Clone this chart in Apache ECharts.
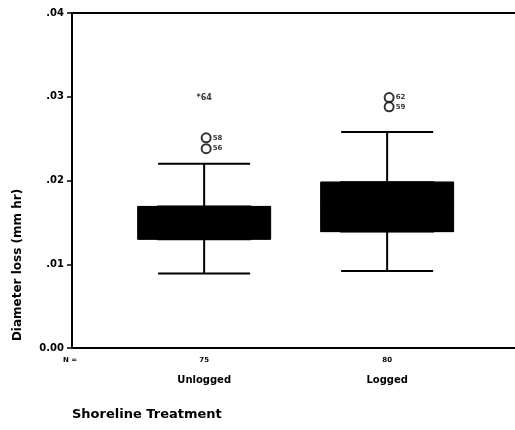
<!DOCTYPE html>
<html>
<head>
<meta charset="utf-8">
<script src="https://cdn.jsdelivr.net/npm/echarts@6/dist/echarts.min.js"></script>
<style>
  html, body { margin: 0; padding: 0; background: #fff; }
  #main { width: 515px; height: 430px; }
</style>
</head>
<body>
<div id="main"></div>
<script>
// groups and their case counts
var categories = ['Unlogged', 'Logged'];
var counts = [75, 80];

// five-number summaries, mm/hr
var boxMin = [0.0089, 0.0092];
var boxQ1 = [0.0130, 0.0139];
var boxMedian = [0.0150, 0.0170];
var boxQ3 = [0.0169, 0.0198];
var boxMax = [0.0220, 0.0258];

// outliers (circles) and extremes (stars) with their case labels
var outlierValues = [[0.0251, 0.0238], [0.0299, 0.0288]];
var outlierIds = [['58', '56'], ['62', '59']];
var extremeValues = [[0.0299], []];
var extremeIds = [['*64'], []];

var yTickLabels = ['0.00', '.01', '.02', '.03', '.04'];

var font = '"DejaVu Sans", sans-serif';

// narrow slots on the category axis so the two groups sit where the
// original plot put them (slot 6 and slot 15 of 22)
var slotCount = 22;
function slotOf(i) { return 6 + 9 * i; }
var slots = [];
for (var s = 0; s < slotCount; s++) slots.push('');
categories.forEach(function (c, i) { slots[slotOf(i)] = c; });

var whiskerData = categories.map(function (c, i) {
  return [slotOf(i), boxMin[i], boxQ1[i], boxMedian[i], boxQ3[i], boxMax[i]];
});
var boxData = categories.map(function (c, i) {
  return [slotOf(i), boxQ1[i], boxQ1[i], boxMedian[i], boxQ3[i], boxQ3[i]];
});
var outlierData = [];
var extremeData = [];
categories.forEach(function (c, i) {
  outlierValues[i].forEach(function (v, j) {
    outlierData.push({ value: [slotOf(i), v], id: outlierIds[i][j] });
  });
  extremeValues[i].forEach(function (v, j) {
    extremeData.push({ value: [slotOf(i), v], id: extremeIds[i][j] });
  });
});

var chart = echarts.init(document.getElementById('main'));
chart.setOption({
  animation: false,
  backgroundColor: '#fff',
  grid: {
    left: 72, top: 13, bottom: 82, width: 447.3,
    outerBoundsMode: 'none',
    show: true, borderColor: '#000', borderWidth: 2
  },
  xAxis: [
    {
      type: 'category',
      data: slots,
      splitLine: { show: false },
      axisLine: { show: true, lineStyle: { color: '#000', width: 2 } },
      axisTick: { show: false },
      axisLabel: {
        interval: 0,
        margin: 5,
        formatter: function (v) {
          var i = categories.indexOf(v);
          if (i < 0) return '';
          return '{n|' + counts[i] + '}\n{c|' + categories[i] + '}';
        },
        rich: {
          n: { fontFamily: font, fontWeight: 'bold', fontSize: 7, lineHeight: 14, color: '#000' },
          c: { fontFamily: font, fontWeight: 'bold', fontSize: 10, lineHeight: 26, color: '#000' }
        }
      }
    },
    {
      // twin axis so the wide box layer is not offset beside the whiskers
      type: 'category',
      data: slots,
      position: 'bottom',
      show: false
    }
  ],
  yAxis: {
    type: 'value',
    min: 0,
    max: 0.04,
    interval: 0.01,
    splitLine: { show: false },
    axisLine: { show: true, lineStyle: { color: '#000', width: 2 } },
    axisTick: { show: true, length: 5, lineStyle: { color: '#000', width: 1.5 } },
    axisLabel: {
      margin: 8,
      fontFamily: font,
      fontWeight: 'bold',
      fontSize: 10,
      color: '#000',
      formatter: function (v) { return yTickLabels[Math.round(v / 0.01)]; }
    }
  },
  graphic: [
    {
      type: 'text',
      x: 18, y: 265,
      rotation: Math.PI / 2,
      style: {
        text: 'Diameter loss (mm hr)',
        font: 'bold 12px ' + font,
        fill: '#000',
        align: 'center',
        verticalAlign: 'middle'
      }
    },
    {
      type: 'text',
      x: 70, y: 360,
      style: {
        text: 'N =',
        font: 'bold 7px ' + font,
        fill: '#000',
        align: 'center',
        verticalAlign: 'middle'
      }
    },
    {
      type: 'text',
      x: 72, y: 415,
      style: {
        text: 'Shoreline Treatment',
        font: 'bold 13px ' + font,
        fill: '#000',
        align: 'left',
        verticalAlign: 'middle'
      }
    }
  ],
  series: [
    {
      type: 'boxplot',
      xAxisIndex: 0,
      boxWidth: [92, 92],
      encode: { x: 0, y: [1, 2, 3, 4, 5] },
      data: whiskerData,
      itemStyle: { color: '#000', borderColor: '#000', borderWidth: 2 }
    },
    {
      type: 'boxplot',
      xAxisIndex: 1,
      boxWidth: [133, 133],
      encode: { x: 0, y: [1, 2, 3, 4, 5] },
      data: boxData,
      itemStyle: { color: '#000', borderColor: '#000', borderWidth: 1, borderRadius: 2 }
    },
    {
      type: 'scatter',
      data: outlierData,
      symbol: 'emptyCircle',
      symbolSize: 9,
      symbolOffset: [2, 0],
      itemStyle: { color: '#000', borderColor: '#000', borderWidth: 2 },
      label: {
        show: true,
        position: 'right',
        distance: 1,
        fontFamily: font,
        fontWeight: 'bold',
        fontSize: 7,
        color: '#000',
        formatter: function (p) { return p.data.id; }
      }
    },
    {
      type: 'scatter',
      data: extremeData,
      symbol: 'circle',
      symbolSize: 1,
      itemStyle: { color: 'rgba(0,0,0,0)' },
      label: {
        show: true,
        position: 'inside',
        fontFamily: font,
        fontWeight: 'bold',
        fontSize: 8,
        color: '#000',
        formatter: function (p) { return p.data.id; }
      }
    }
  ]
});
</script>
</body>
</html>
